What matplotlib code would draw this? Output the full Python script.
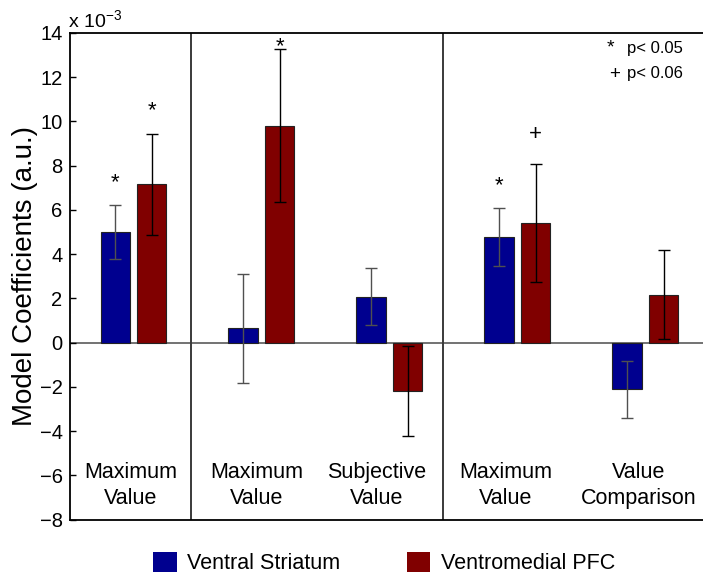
import matplotlib
matplotlib.use("Agg")
import matplotlib.pyplot as plt
import matplotlib.transforms as mtransforms
from matplotlib.patches import Patch
import numpy as np

plt.rcParams["font.family"] = ["Liberation Sans", "DejaVu Sans"]
plt.rcParams["mathtext.fontset"] = "custom"
plt.rcParams["mathtext.rm"] = "Liberation Sans"

# Regressor categories (two-line labels) and their label positions on the x axis
categories = ["Maximum\nValue", "Maximum\nValue", "Subjective\nValue",
              "Maximum\nValue", "Value\nComparison"]
label_x = [0.98, 1.966, 2.904, 3.912, 4.95]

# Model coefficients (x 10^-3) and their standard errors
striatum = [5.00, 0.64, 2.08, 4.77, -2.10]
striatum_se = [1.24, 2.45, 1.29, 1.32, 1.29]
vmpfc = [7.15, 9.81, -2.18, 5.41, 2.16]
vmpfc_se = [2.27, 3.47, 2.03, 2.68, 2.02]

# Significance marks: (category index, region, symbol, y position)
sig_marks = [(0, "striatum", "*", 7.55), (0, "vmpfc", "*", 10.8),
             (1, "vmpfc", "*", 13.7), (3, "striatum", "*", 7.4),
             (3, "vmpfc", "+", 9.5)]

# Section dividers between the three model panels
dividers = [1.451, 3.42]

yticks = [-8, -6, -4, -2, 0, 2, 4, 6, 8, 10, 12, 14]

blue = "#00008f"
red = "#800000"

W, H = 703, 577
fig = plt.figure(figsize=(W / 100, H / 100), dpi=100)
ax_left, ax_right = 69.5, 709.25
ax_top, ax_bot = 33, 519.5
ax = fig.add_axes([ax_left / W, 1 - ax_bot / H, (ax_right - ax_left) / W,
                   (ax_bot - ax_top) / H])

x = np.arange(1, len(categories) + 1)
off = 0.1426
width = 0.23

ax.bar(x - off, striatum, width, color=blue, edgecolor="#222222",
       linewidth=0.8, zorder=2)
ax.bar(x + off, vmpfc, width, color=red, edgecolor="#222222",
       linewidth=0.8, zorder=2)
ax.errorbar(x - off, striatum, yerr=striatum_se, fmt="none", ecolor="#505050",
            elinewidth=1.0, capsize=4, capthick=1.0, zorder=3)
ax.errorbar(x + off, vmpfc, yerr=vmpfc_se, fmt="none", ecolor="black",
            elinewidth=1.0, capsize=4, capthick=1.0, zorder=3)

ax.axhline(0, color="#5a5a5a", lw=1.2, zorder=1)
for d in dividers:
    ax.axvline(d, color="#3a3a3a", lw=1.4, zorder=1)

ax.set_xlim(0.5, 5.5)
ax.set_ylim(-8, 14)
ax.set_yticks(yticks)
ax.set_yticklabels([("\u2212%d" % -t) if t < 0 else str(t) for t in yticks])
ax.set_xticks([])
ax.tick_params(axis="y", direction="in", length=4, width=1, labelsize=14.5,
               pad=5, right=True, colors="black")
for s in ["left", "top", "bottom"]:
    ax.spines[s].set_linewidth(1.3)
    ax.spines[s].set_color("black")
ax.spines["right"].set_visible(False)

ax.set_ylabel("Model Coefficients (a.u.)", fontsize=20)
ax.yaxis.set_label_coords(-31 / (ax_right - ax_left), 0.5)

for lx, lab in zip(label_x, categories):
    ax.text(lx, -6.45, lab, ha="center", va="center", fontsize=15.5,
            linespacing=1.32)

# Significance symbols above the bars
sym_shift = {"*": -9.0, "+": -5.4}
for ci, region, sym, ypos in sig_marks:
    xp = x[ci] - off if region == "striatum" else x[ci] + off
    tr = mtransforms.offset_copy(ax.transData, fig=fig, x=0,
                                 y=sym_shift[sym], units="points")
    ax.text(xp, ypos, sym, ha="center", va="baseline", fontsize=16,
            transform=tr)

# p-value key in the top-right corner
tr_star = mtransforms.offset_copy(ax.transData, fig=fig, y=-8.0, units="points")
tr_plus = mtransforms.offset_copy(ax.transData, fig=fig, y=-4.6, units="points")
ax.text(4.73, 13.6, "*", ha="center", va="baseline", fontsize=14,
        transform=tr_star)
ax.text(4.76, 12.19, "+", ha="center", va="baseline", fontsize=13.5,
        transform=tr_plus)
ax.text(4.857, 13.28, "p< 0.05", ha="left", va="center", fontsize=12)
ax.text(4.857, 12.19, "p< 0.06", ha="left", va="center", fontsize=12)

# Exponent label above the y axis
fig.text(68 / W, 1 - 21 / H, r"x 10$^{\mathregular{-3}}$", ha="left",
         va="center", fontsize=14)

handles = [Patch(facecolor=blue, edgecolor="none", label="Ventral Striatum"),
           Patch(facecolor=red, edgecolor="none", label="Ventromedial PFC")]
fig.legend(handles=handles, loc="center", bbox_to_anchor=(384 / W, 1 - 563 / H),
           ncol=2, frameon=False, fontsize=15.5, handlelength=1.1,
           handleheight=1.07, handletextpad=0.47, columnspacing=3.1,
           borderpad=0, borderaxespad=0)

fig.savefig("out.png", dpi=100)
